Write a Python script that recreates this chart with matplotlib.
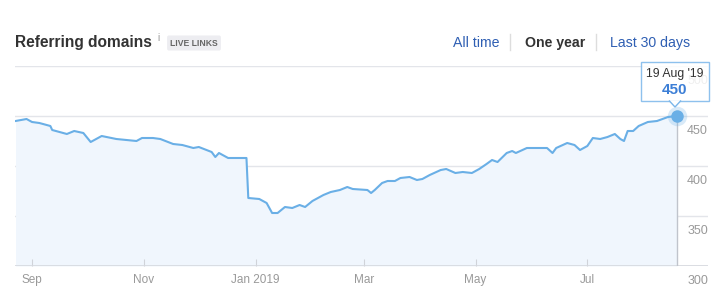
import numpy as np
import matplotlib.pyplot as plt
import matplotlib.transforms as mtransforms
from matplotlib.patches import FancyBboxPatch, Polygon
import datetime as dt

plt.rcParams['font.family'] = ['Liberation Sans', 'DejaVu Sans']

# Datos
fechas = ['2018-08-23', '2018-08-29', '2018-09-01', '2018-09-05', '2018-09-11', '2018-09-12',
          '2018-09-20', '2018-09-24', '2018-09-29', '2018-10-03', '2018-10-09', '2018-10-17',
          '2018-10-28', '2018-10-31', '2018-11-06', '2018-11-10', '2018-11-17', '2018-11-22',
          '2018-11-28', '2018-12-01', '2018-12-08', '2018-12-10', '2018-12-12', '2018-12-17',
          '2018-12-27', '2018-12-28', '2019-01-03', '2019-01-07', '2019-01-10', '2019-01-13',
          '2019-01-17', '2019-01-21', '2019-01-25', '2019-01-28', '2019-02-01', '2019-02-07',
          '2019-02-11', '2019-02-16', '2019-02-20', '2019-02-23', '2019-03-03', '2019-03-05',
          '2019-03-07', '2019-03-11', '2019-03-14', '2019-03-18', '2019-03-21', '2019-03-26',
          '2019-03-30', '2019-04-02', '2019-04-06', '2019-04-12', '2019-04-15', '2019-04-20',
          '2019-04-24', '2019-04-29', '2019-05-03', '2019-05-07', '2019-05-10', '2019-05-13',
          '2019-05-18', '2019-05-21', '2019-05-23', '2019-05-29', '2019-06-03', '2019-06-09',
          '2019-06-12', '2019-06-14', '2019-06-20', '2019-06-24', '2019-06-27', '2019-07-01',
          '2019-07-04', '2019-07-08', '2019-07-12', '2019-07-16', '2019-07-19', '2019-07-21',
          '2019-07-23', '2019-07-26', '2019-07-29', '2019-08-03', '2019-08-08', '2019-08-14',
          '2019-08-19']
dominios = [445, 447, 444, 443, 440, 436,
            432, 435, 433, 424, 430, 427,
            425, 428, 428, 427, 422, 421,
            418, 419, 414, 409, 413, 408,
            408, 368, 367, 363, 353, 353,
            359, 358, 361, 359, 365, 371,
            374, 376, 379, 377, 376, 373,
            376, 383, 385, 385, 388, 389,
            386, 387, 391, 396, 397, 393,
            394, 393, 397, 402, 406, 404,
            413, 415, 413, 418, 418, 418,
            413, 418, 423, 421, 416, 420,
            428, 427, 429, 432, 427, 425,
            435, 435, 440, 444, 445, 449,
            450]
ticks_x = ['2018-09-01', '2018-11-01', '2019-01-01', '2019-03-01', '2019-05-01', '2019-07-01']
etiquetas_x = ['Sep', 'Nov', 'Jan 2019', 'Mar', 'May', 'Jul']
ticks_y = [300, 350, 400, 450, 500]

x = [dt.datetime.strptime(f, '%Y-%m-%d') for f in fechas]
azul = '#6aafe6'
fuente_eje = ['Liberation Sans Narrow', 'Liberation Sans']

fig = plt.figure(figsize=(7.25, 3.04), dpi=100)
ax = fig.add_axes([15/725, 38/304, 693/725, 200/304])

ax.fill_between(x, dominios, 300, color='#f0f6fd', lw=0, zorder=1)
ax.plot(x, dominios, color=azul, lw=1.5, zorder=3)

ax.set_xlim(dt.datetime(2018, 8, 22, 17), dt.datetime(2019, 9, 4, 20))
ax.set_ylim(300, 500)

for v in ticks_y:
    ax.axhline(v, color='#e3e5ea', lw=1, zorder=0)
ax.axhline(300, color='#d5d8de', lw=1.2, zorder=2)

for s in ax.spines.values():
    s.set_visible(False)

ax.set_yticks([])
ax.set_xticks([dt.datetime.strptime(t, '%Y-%m-%d') for t in ticks_x])
ax.set_xticklabels(etiquetas_x, fontsize=8.5, color='#999999', fontfamily=fuente_eje)
ax.tick_params(axis='x', direction='in', length=5, width=0.8, color='#d0d3d9', pad=6)

# etiquetas del eje y a la derecha, debajo de cada línea
desplaz = mtransforms.offset_copy(ax.get_yaxis_transform(), fig=fig, x=0, y=-10.5, units='points')
for v in ticks_y:
    ax.text(1.0, v, str(v), transform=desplaz, ha='right', va='center', fontsize=9,
            color='#999999', fontfamily=fuente_eje, zorder=2)

# marcador final y línea vertical
xf, yf = x[-1], dominios[-1]
ax.plot([xf, xf], [300, yf], color='#c0c4cc', lw=1, zorder=2)
ax.plot(xf, yf, 'o', ms=14, color=azul, alpha=0.25, mew=0, zorder=4)
ax.plot(xf, yf, 'o', ms=9, color=azul, mew=0, zorder=5)

# tooltip
fig.patches.append(FancyBboxPatch((641/725, 203/304), 68/725, 39/304, boxstyle='square,pad=0',
                                  transform=fig.transFigure, facecolor='white', alpha=0.85,
                                  edgecolor='#7ab6ea', lw=1, zorder=10))
fig.patches.append(Polygon([(669/725, 203.5/304), (675/725, 197/304), (681/725, 203.5/304)],
                           closed=False, transform=fig.transFigure, facecolor='white',
                           edgecolor='#7ab6ea', lw=1, zorder=11))
fig.text(675/725, 230/304, "19 Aug '19", ha='center', va='center', fontsize=8.8, color='#333333', zorder=12)
fig.text(675/725, 214/304, '450', ha='center', va='center', fontsize=11, fontweight='bold', color='#3d7fd6', zorder=12)

# encabezado
fig.text(15/725, 261/304, 'Referring domains', fontsize=11.2, fontweight='bold', color='#333333', va='center')
fig.text(157/725, 266/304, 'i', fontsize=7, color='#999999', va='center')
fig.text(194/725, 261/304, 'LIVE LINKS', fontsize=6.2, fontweight='bold', color='#666666', ha='center', va='center',
         bbox=dict(boxstyle='round,pad=0.35,rounding_size=0.2', fc='#ededf1', ec='none'))

fig.text(453/725, 261/304, 'All time', fontsize=10.2, color='#2f5fb3', va='center')
fig.text(525/725, 261/304, 'One year', fontsize=10.2, fontweight='bold', color='#333333', va='center')
fig.text(610/725, 261/304, 'Last 30 days', fontsize=10.2, color='#2f5fb3', va='center')
for xs in [510, 596]:
    fig.add_artist(plt.Line2D([xs/725, xs/725], [254/304, 270/304], color='#dddddd', lw=1, transform=fig.transFigure))

fig.savefig('out.png', dpi=100)
